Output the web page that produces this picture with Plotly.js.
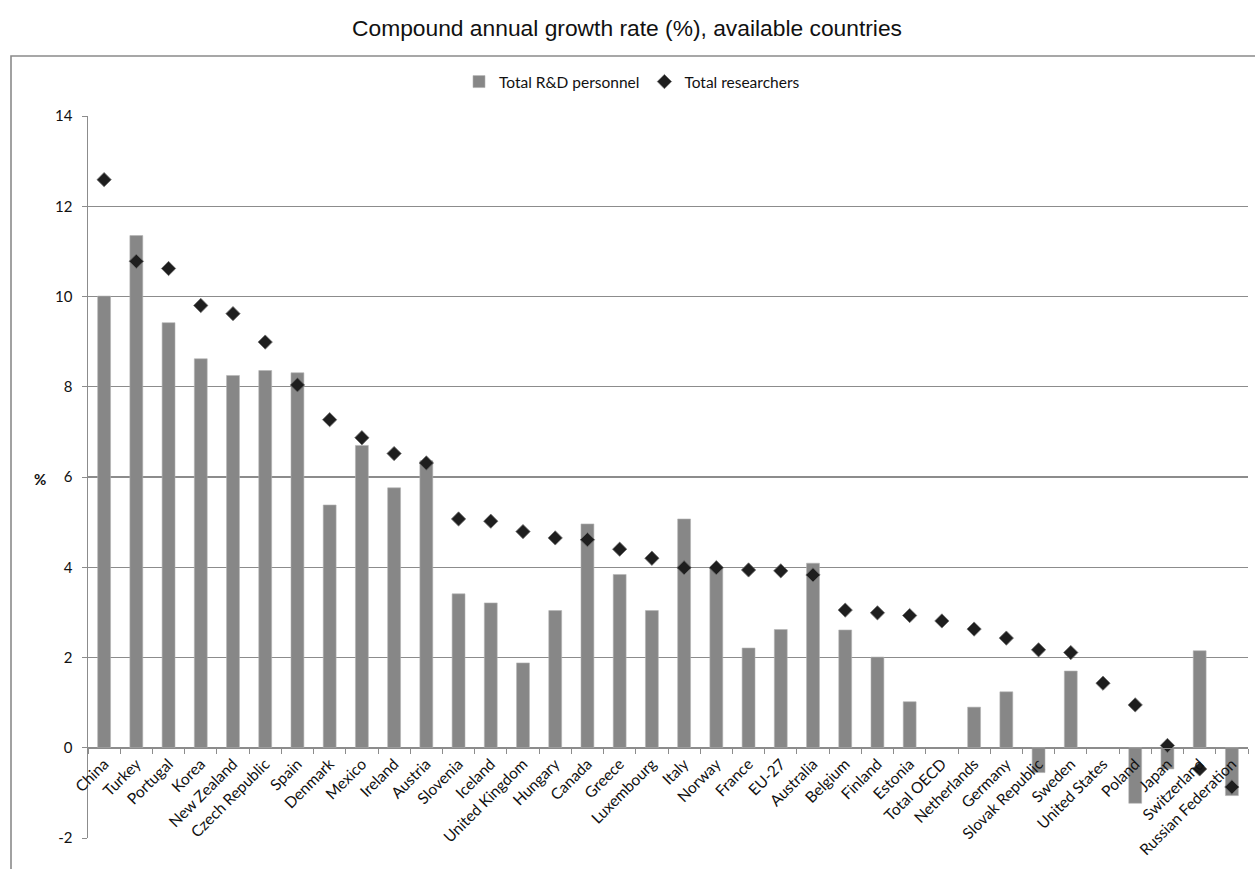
<!DOCTYPE html>
<html>
<head>
<meta charset="utf-8">
<script src="https://cdn.plot.ly/plotly-3.0.1.min.js"></script>
<style>
  html, body { margin: 0; padding: 0; background: #fff; }
  #chart { width: 1255px; height: 869px; }
</style>
</head>
<body>
<div id="chart"></div>
<script>
// Countries, ordered by growth in total researchers
const countries = [
  "China", "Turkey", "Portugal", "Korea", "New Zealand", "Czech Republic", "Spain",
  "Denmark", "Mexico", "Ireland", "Austria", "Slovenia", "Iceland", "United Kingdom",
  "Hungary", "Canada", "Greece", "Luxembourg", "Italy", "Norway", "France", "EU-27",
  "Australia", "Belgium", "Finland", "Estonia", "Total OECD", "Netherlands", "Germany",
  "Slovak Republic", "Sweden", "United States", "Poland", "Japan", "Switzerland",
  "Russian Federation"
];

// Compound annual growth rate (%), total R&D personnel (null = not available)
const rdPersonnel = [
  10.01, 11.35, 9.42, 8.62, 8.25, 8.36, 8.31,
  5.38, 6.70, 5.76, 6.36, 3.41, 3.21, 1.88,
  3.04, 4.96, 3.84, 3.04, 5.07, 3.98, 2.21, 2.62,
  4.09, 2.61, 2.01, 1.02, null, 0.90, 1.24,
  -0.55, 1.70, null, -1.23, -0.47, 2.15,
  -1.06
];

// Compound annual growth rate (%), total researchers
const researchers = [
  12.59, 10.78, 10.62, 9.80, 9.62, 8.99, 8.04,
  7.27, 6.87, 6.52, 6.31, 5.07, 5.02, 4.79,
  4.65, 4.61, 4.40, 4.20, 3.99, 3.99, 3.94, 3.92,
  3.83, 3.05, 2.99, 2.93, 2.81, 2.63, 2.43,
  2.17, 2.11, 1.43, 0.95, 0.05, -0.47,
  -0.87
];

const yTicks = [-2, 0, 2, 4, 6, 8, 10, 12, 14];

const labelFont = "Lato, 'Open Sans', 'DejaVu Sans', sans-serif";
const gridGray = "#8c8c8c";

const traces = [
  {
    type: "bar",
    name: "Total R&D personnel",
    x: countries,
    y: rdPersonnel,
    marker: { color: "#878787", line: { color: "#b4b4b4", width: 0.6 } },
    hoverinfo: "x+y"
  },
  {
    type: "scatter",
    mode: "markers",
    name: "Total researchers",
    x: countries,
    y: researchers,
    marker: { symbol: "diamond", size: 11, color: "#1e1e1e", line: { color: "#6e6e6e", width: 0.8 } },
    hoverinfo: "x+y"
  }
];

// plot area: x 88..1248, y 116..838 (px)
const L = 88, R = 1255 - 1248, T = 116, B = 869 - 838;
const plotW = 1255 - L - R, plotH = 869 - T - B;
const px = v => (v - L) / plotW;          // pixel x -> paper x
const py = v => (869 - B - v) / plotH;    // pixel y -> paper y

const layout = {
  width: 1255,
  height: 869,
  margin: { l: L, r: R, t: T, b: B, pad: 0 },
  paper_bgcolor: "#ffffff",
  plot_bgcolor: "#ffffff",
  bargap: 0.6,
  showlegend: true,
  title: {
    text: "Compound annual growth rate (%), available countries",
    font: { family: "'Liberation Sans', Arial, sans-serif", size: 22.8, color: "#111" },
    x: 627 / 1255, xanchor: "center", xref: "container",
    y: 1 - 28 / 869, yanchor: "middle", yref: "container"
  },
  legend: {
    orientation: "h",
    x: px(632), xanchor: "center",
    y: py(82), yanchor: "middle",
    font: { family: labelFont, size: 15.5, color: "#111" },
    itemwidth: 30,
    tracegroupgap: 0,
    bgcolor: "rgba(0,0,0,0)"
  },
  xaxis: {
    type: "category",
    range: [-0.5, countries.length - 0.5],
    autorange: false,
    anchor: "free",
    position: 2 / 16,
    showline: true,
    linecolor: gridGray,
    linewidth: 1.2,
    ticks: "outside",
    tickson: "boundaries",
    ticklen: 5,
    tickcolor: gridGray,
    tickangle: -45,
    tickfont: { family: labelFont, size: 15.5, color: "#111" },
    showgrid: false,
    zeroline: false,
    fixedrange: true
  },
  yaxis: {
    range: [-2, 14],
    autorange: false,
    tickvals: yTicks,
    ticktext: yTicks.map(String),
    showline: true,
    linecolor: gridGray,
    linewidth: 1.5,
    ticks: "outside",
    ticklen: 5,
    tickcolor: gridGray,
    showgrid: true,
    gridcolor: gridGray,
    gridwidth: 1.2,
    zeroline: false,
    tickfont: { family: labelFont, size: 15, color: "#111" },
    ticklabelstandoff: 6,
    fixedrange: true
  },
  annotations: [
    {
      text: "<b>%</b>",
      xref: "paper", yref: "paper",
      x: px(40), y: py(479),
      xanchor: "center", yanchor: "middle",
      showarrow: false,
      font: { family: labelFont, size: 15, color: "#111" }
    }
  ],
  shapes: [
    // chart frame (left and top edges; the rest runs past the page)
    {
      type: "path", xref: "paper", yref: "paper",
      path: `M ${px(11)} ${py(900)} L ${px(11)} ${py(56)} L ${px(1300)} ${py(56)}`,
      line: { color: "#8a8a8a", width: 1.6 },
      layer: "below"
    }
  ]
};

Plotly.newPlot("chart", traces, layout, { displayModeBar: false, staticPlot: true });
</script>
</body>
</html>
